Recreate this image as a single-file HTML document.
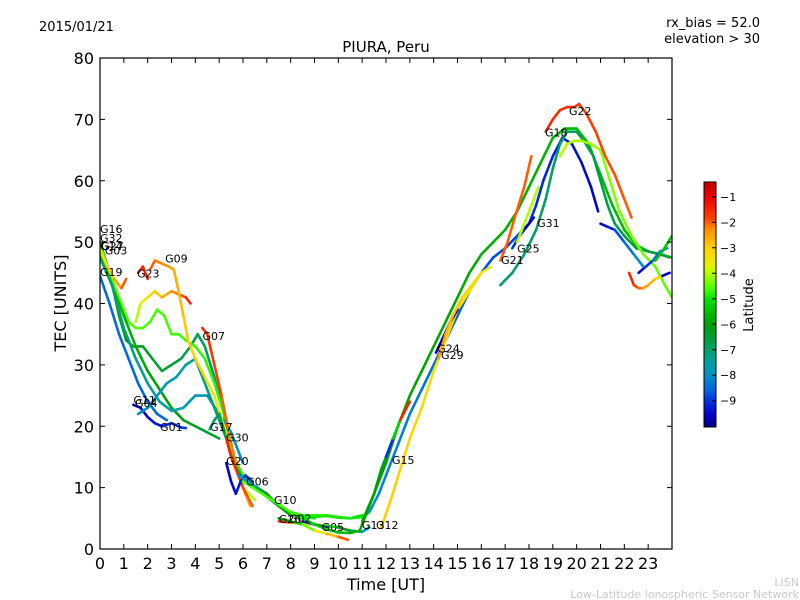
<!DOCTYPE html>
<html><head><meta charset="utf-8">
<style>
body{margin:0;background:#fff;}
svg{display:block;font-family:"DejaVu Sans","Liberation Sans",sans-serif;}
</style></head>
<body>
<svg id="chart" width="800" height="600" viewBox="0 0 800 600" xmlns="http://www.w3.org/2000/svg">
<defs>
<linearGradient id="cbgrad" x1="0" y1="1" x2="0" y2="0">
<stop offset="0" stop-color="#000080"/>
<stop offset="0.05" stop-color="#0000c8"/>
<stop offset="0.105" stop-color="#0030e0"/>
<stop offset="0.145" stop-color="#0060e0"/>
<stop offset="0.21" stop-color="#0090c8"/>
<stop offset="0.26" stop-color="#00a0a8"/>
<stop offset="0.31" stop-color="#00a070"/>
<stop offset="0.42" stop-color="#00a000"/>
<stop offset="0.52" stop-color="#00e000"/>
<stop offset="0.56" stop-color="#40ff00"/>
<stop offset="0.625" stop-color="#b0ff00"/>
<stop offset="0.66" stop-color="#e8f000"/>
<stop offset="0.73" stop-color="#ffd000"/>
<stop offset="0.81" stop-color="#ff8c00"/>
<stop offset="0.85" stop-color="#ff4000"/>
<stop offset="0.94" stop-color="#ee0000"/>
<stop offset="1" stop-color="#c00000"/>
</linearGradient>
<clipPath id="plotclip"><rect x="100" y="58" width="572" height="491"/></clipPath>
</defs>
<text x="39" y="31" font-size="13">2015/01/21</text>
<text x="760" y="27" font-size="13" text-anchor="end">rx_bias = 52.0</text>
<text x="760" y="43" font-size="13" text-anchor="end">elevation &gt; 30</text>
<text x="386" y="52" font-size="15" text-anchor="middle">PIURA, Peru</text>
<g id="marks" clip-path="url(#plotclip)"></g>
<g id="labels"></g>
<rect x="100" y="58" width="572" height="491" fill="none" stroke="#000" stroke-width="1.2"/>
<g id="axes"></g>
<text x="386" y="590" font-size="16" text-anchor="middle">Time [UT]</text>
<text x="66" y="303" font-size="16" text-anchor="middle" transform="rotate(-90 66 303)">TEC [UNITS]</text>
<rect x="704" y="182" width="12" height="245" fill="url(#cbgrad)" stroke="#000" stroke-width="1"/>
<g id="cbaxis"></g>
<text x="753" y="305" font-size="13" text-anchor="middle" transform="rotate(-90 753 305)">Latitude</text>
<text x="799" y="586" font-size="11" fill="#c8c8c8" text-anchor="end">LISN</text>
<text x="799" y="598" font-size="11" fill="#c8c8c8" text-anchor="end">Low-Latitude Ionospheric Sensor Network</text>
</svg>
<script>
const xTicks=[0,1,2,3,4,5,6,7,8,9,10,11,12,13,14,15,16,17,18,19,20,21,22,23];
const yTicks=[0,10,20,30,40,50,60,70,80];
const cbTicks=[-1,-2,-3,-4,-5,-6,-7,-8,-9];
const trackNames=["G16","G32","G14","G27","G03","G19","G11","G01","G23","G23b","G09","G07","G17","G30","G20","G06","G10","G02","G05","G05b","G13","G18","G31","G12","G21","G15","G24","G29","G25","G4y","G21b","Gyg","G22","Gr1","Gb1","Gb2","Gb3","Gg1"];
const trackLatStart=[-6,-4.5,-5.5,-3.5,-7,-8.5,-9.6,-8,-4,-1.5,-2,-1.5,-7,-1.5,-9.6,-8,-4.5,-1.5,-6,-9,-5,-6,-8,-3,-2,-9,-9.6,-2.5,-9,-4,-7,-4,-1.5,-1.5,-9.5,-9.6,-9.6,-5.5];
const trackLatEnd=[-7,-5,-6.5,-2,-8,-8.5,-9,-7,-1.5,-1.5,-4,-2.5,-6,-2,-9,-5,-5,-8,-2,-9.5,-6.5,-5.5,-9.5,-3.5,-2,-1.5,-9.6,-3.5,-9.5,-4,-6.5,-4.5,-2,-3,-8,-9.5,-8,-5.5];
const trackTimes=[
[0,.4,.8,1.1,1.4,1.8,2.2,2.6,3,3.4,3.8,4.1,4.4,4.8,5.2,5.5],
[0,.4,.8,1.2,1.5,1.8,2.1,2.4,2.7,3,3.3,3.6,4,4.4,4.8,5.2,5.6,6,6.5,7,7.5,8,8.5,9,9.5,10,10.5,11],
[0,.5,1,1.5,2,2.5,3,3.5,4,4.5,5],
[0,.3,.6,.9,1.1],
[0,.5,1,1.5,2,2.5,3,3.5,4,4.5,5,5.5,6],
[0,.4,.8,1.2,1.6,2,2.4,2.8],
[1.4,1.7,2,2.3,2.6,3,3.4,3.6],
[1.6,2,2.4,2.8,3.2,3.6,4,4.5,4.9,5.3],
[1.5,1.7,2,2.3,2.6,3,3.3,3.6,3.8],
[1.6,1.8,2.0],
[2.1,2.3,2.6,2.9,3.1,3.3,3.5,3.7,4,4.4,4.8,5.2,5.6,6,6.5],
[4.3,4.5,4.8,5.1,5.4,5.7,6,6.3],
[4.6,4.8,5,5.3,5.6,5.9,6.2,6.6,7,7.5,8],
[5.3,5.5,5.8,6,6.2,6.4],
[5.3,5.5,5.7,5.9,6.1,6.4],
[5.8,6.2,6.6,7,7.5,8,8.5,9],
[6,6.4,6.8,7.2,7.6,8,8.5,9,9.5,10,10.5,11,11.3],
[7.5,8,8.5,9,9.5,10,10.5,11,11.3],
[7.5,8,8.5,9,9.5,10,10.4],
[8.5,9,9.5],
[8,8.5,9,9.5,10,10.5,10.9,11.2,11.5,11.8,12.1,12.4],
[11,11.5,12,12.5,13,13.5,14,14.5,15,15.5,16,16.5,17,17.5,18,18.5,19,19.5,20,20.5,21,21.5,22,22.5,23,23.5,23.9],
[11.3,11.7,12,12.5,13,13.5,14,14.5,15,15.5,16,16.5,17,17.5,18,18.3,18.6,19,19.4,19.8,20.2,20.6,20.9],
[11.8,12.2,12.6,13,13.5,14,14.5,15,15.5,16],
[16.8,17.1,17.4,17.8,18.1],
[12,12.3,12.6,13],
[14.1,14.4,14.7,15],
[14.2,14.5,14.8,15.2,15.6,16,16.4],
[17.3,17.6,17.9,18.2],
[17.5,17.8,18.1,18.4],
[16.8,17.3,17.8,18.3,18.7,19,19.3,19.6,20,20.3,20.7,21,21.3,21.6,22,22.5,23,23.5,24],
[19.3,19.6,19.9,20.2,20.6,21,21.4,21.8,22.3,22.8,23.3,23.7,24],
[18.7,19,19.3,19.6,19.9,20.1,20.4,20.8,21.2,21.6,22,22.3],
[22.2,22.4,22.6,22.8,23,23.3,23.6],
[22.6,22.9,23.2,23.5,23.8],
[23.6,23.9],
[21,21.3,21.6,22,22.4,22.8],
[23.3,23.6,24]
];
const trackTec=[
[50,45,38,34,33,33,31,29,30,31,33,35,33,28,22,17],
[49.5,45,41,37,36,36,37,39,38,35,35,34,33,31,27,22,15,12,10,8.5,7,5.5,5,5.2,5.4,5.1,5,5.5],
[48.5,43,38,33,29,26,23,21,20,19,18],
[48.8,46,44,42.5,44],
[47.5,43,36,31,27,24,22.5,23,25,25,22,19,14],
[44.5,40,35,31,27,24,22,21],
[23.5,23,21.5,20.5,20,20.5,19.8,19.7],
[22,23,25,27,28,30,31,26,22,18],
[37,40,41,42,41,42,41.5,41,40],
[45,46,44],
[45.5,47,46.5,46,45.5,42,38,34,31,28,25,20,14,10,8],
[36,35,30,25,19,14,10,7],
[19.5,21,22,18,14,12,11,10,9,7,5.5],
[18,15,12,10,8.5,7],
[14,11,9,11,12,11],
[12,11,10,8.5,7,6,5.5,5],
[11,10,9,8,7,6,5.5,5.5,5.5,5.2,5.0,5.2,6],
[4.5,4.3,4.2,4,3.8,3.5,3,2.8,3.5],
[5,4.5,4,3,2.5,2,1.5],
[4.5,4,3.5],
[5.5,5,4,3.2,2.7,2.6,3,6,9,13,16,19],
[4.5,9,14,20,25,29,33,37,41,45,48,50,52,55,59,63,67,68.5,68.5,66,61,56,52,49.5,48.5,48,47.5],
[6,9,12,17,22,26,30,34,38,42,45,47.5,49,51,53,56,60,64,67,66,63,59,55],
[3.5,8,13,18,23,29,34,39,42,45],
[47,50,54,59,64],
[15,18,21,24],
[32,34.5,37,39],
[31,35,38,41,43,45,46],
[49,51,52.5,54],
[50,53,56,59],
[43,45,48,52,57,62,66,68,68,66.5,64,60,56,53,51,49,48.5,48,47.5],
[64,66,66.5,66.5,66,65,60,55,51,48,46,43,41],
[68,70,71.5,72,72,72.5,71,68,64,61,57,54],
[45,43,42.5,42.5,43,44,44.5],
[45,46,47,48.5,49],
[44.5,45],
[53,52.5,52,50,48,46],
[47,48.5,51]
];
const labelNames=["G16","G32","G14","G27","G03","G19","G23","G09","G07","G11","G04","G01","G17","G30","G20","G06","G10","G26","G02","G05","G13","G12","G15","G24","G29","G21","G25","G31","G18","G22"];
const labelT=[0,0,0,0.05,0.2,0,1.55,2.73,4.3,1.4,1.47,2.52,4.62,5.29,5.29,6.13,7.3,7.5,7.93,9.3,10.99,11.58,12.25,14.15,14.31,16.83,17.5,18.34,18.67,19.68];
const labelV=[52.1,50.7,49.4,49.4,48.6,45.1,44.9,47.3,34.7,24.3,23.8,19.9,19.9,18.2,14.3,11.0,8.0,4.9,5.0,3.6,3.9,3.9,14.5,32.7,31.6,47.1,49.0,53.1,67.9,71.4];

const X0=100,X1=672,Y0=549,Y1=58;
const xs=t=>X0+(X1-X0)*t/24;
const ys=v=>Y0-(Y0-Y1)*v/80;
const cbTop=182,cbBot=427,latMax=-0.42,latMin=-10.03;
const cbY=l=>cbTop+(latMax-l)/(latMax-latMin)*(cbBot-cbTop);
const stops=[[0,[0,0,128]],[.05,[0,0,200]],[.105,[0,48,224]],[.145,[0,96,224]],[.21,[0,144,200]],[.26,[0,160,168]],[.31,[0,160,112]],[.42,[0,160,0]],[.52,[0,224,0]],[.56,[64,255,0]],[.625,[176,255,0]],[.66,[232,240,0]],[.73,[255,208,0]],[.81,[255,140,0]],[.85,[255,64,0]],[.94,[238,0,0]],[1,[192,0,0]]];
function cmap(l){let n=(l-latMin)/(latMax-latMin);n=Math.max(0,Math.min(1,n));
for(let i=1;i<stops.length;i++){if(n<=stops[i][0]){const a=stops[i-1],b=stops[i];const f=(n-a[0])/(b[0]-a[0]);
const c=a[1].map((v,k)=>Math.round(v+(b[1][k]-v)*f));return `rgb(${c[0]},${c[1]},${c[2]})`;}}return "rgb(192,0,0)";}
const NS="http://www.w3.org/2000/svg";
function mk(tag,attrs,parent){const e=document.createElementNS(NS,tag);for(const k in attrs)e.setAttribute(k,attrs[k]);parent.appendChild(e);return e;}
const marks=document.getElementById('marks');
trackTimes.forEach((ts,i)=>{
  const g=mk('g',{},marks);
  
  
  const vs=trackTec[i];const n=ts.length;
  for(let j=0;j<n-1;j++){
    const f=n>2?j/(n-2):0;
    const lat=trackLatStart[i]+(trackLatEnd[i]-trackLatStart[i])*f;
    const s=mk('line',{x1:xs(ts[j]),y1:ys(vs[j]),x2:xs(ts[j+1]),y2:ys(vs[j+1]),stroke:cmap(lat),'stroke-width':2.6,'stroke-linecap':'round'},g);
    
    
  }
});
const labels=document.getElementById('labels');
labelNames.forEach((nm,i)=>{
  const t=mk('text',{x:xs(labelT[i]),y:ys(labelV[i])+4,'font-size':11},labels);
  
  
  t.textContent=nm;
});
const axes=document.getElementById('axes');
xTicks.forEach(v=>{
  const x=xs(v);
  const a=mk('line',{x1:x,y1:Y0,x2:x,y2:Y0-5,stroke:'#000'},axes);
  
  
  const b=mk('line',{x1:x,y1:Y1,x2:x,y2:Y1+5,stroke:'#000'},axes);
  
  
  const t=mk('text',{x:x,y:569,'font-size':16,'text-anchor':'middle'},axes);
  
  
  t.textContent=v;
});
yTicks.forEach(v=>{
  const y=ys(v);
  const a=mk('line',{x1:X0,y1:y,x2:X0+5,y2:y,stroke:'#000'},axes);
  
  
  const b=mk('line',{x1:X1,y1:y,x2:X1-5,y2:y,stroke:'#000'},axes);
  
  
  const t=mk('text',{x:94,y:y+6,'font-size':16,'text-anchor':'end'},axes);
  
  
  t.textContent=v;
});
const cba=document.getElementById('cbaxis');
cbTicks.forEach(v=>{
  const y=cbY(v);
  const a=mk('line',{x1:712,y1:y,x2:716,y2:y,stroke:'#000'},cba);
  
  
  const t=mk('text',{x:720,y:y+4,'font-size':11},cba);
  
  
  t.textContent='\u2212'+Math.abs(v);
});
</script>
</body></html>
